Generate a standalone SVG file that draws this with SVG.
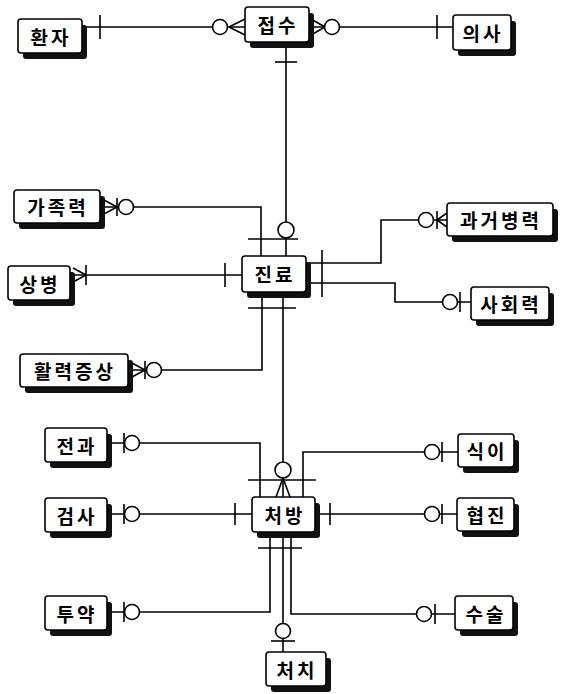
<svg xmlns="http://www.w3.org/2000/svg" width="568" height="694" viewBox="0 0 568 694">
<style>
.bx{fill:#fff;stroke:#000;stroke-width:1.6}
.sh{fill:#111}
.t{font-family:"Noto Sans CJK KR","Noto Sans CJK SC",sans-serif;font-weight:bold;font-size:19px;letter-spacing:3px;fill:#000;text-anchor:middle;dominant-baseline:central}
.ln{fill:none;stroke:#000;stroke-width:1.6}
.ci{fill:#fff;stroke:#000;stroke-width:1.6}
</style>
<rect width="568" height="694" fill="#fff"/>
<g id="connectors" class="ln">
  <path d="M82 27H245"/>
  <path d="M100 15V39"/>
  <path d="M229 27L245 19M229 27L245 35"/>
  <circle class="ci" cx="220" cy="27" r="7.5"/>
  <path d="M309 27H453"/>
  <path d="M325 27L311 19M325 27L311 35"/>
  <circle class="ci" cx="332" cy="27" r="7.5"/>
  <path d="M437 15V39"/>
  <path d="M286 42V256"/>
  <path d="M275 62H297"/>
  <circle class="ci" cx="286" cy="230" r="8"/>
  <path d="M248 239H298"/>
  <path d="M100 207H261V256"/>
  <path d="M117 207L104 200M117 207L104 214M117 198V216"/>
  <circle class="ci" cx="126" cy="207" r="7.5"/>
  <path d="M70 275H242"/>
  <path d="M86 275L73 268M86 275L73 282M86 265V285"/>
  <path d="M225 263V287"/>
  <path d="M128 370H262V292"/>
  <path d="M145 370L132 363M145 370L132 377M145 361V379"/>
  <circle class="ci" cx="154" cy="370" r="7.5"/>
  <path d="M248 308H296"/>
  <path d="M306 263H381V220H447"/>
  <path d="M322 250V297"/>
  <circle class="ci" cx="426" cy="220" r="7.5"/>
  <path d="M437 211V229M437 220L447 213M437 220L447 227"/>
  <path d="M306 283H395V302H471"/>
  <circle class="ci" cx="450" cy="302" r="7.5"/>
  <path d="M460 292V312"/>
  <path d="M283 292V497"/>
  <circle class="ci" cx="283" cy="470" r="8"/>
  <path d="M283 478L276 497M283 478L290 497"/>
  <path d="M248 480H316"/>
  <path d="M107 443H260V497"/>
  <path d="M124 433V453"/>
  <circle class="ci" cx="132" cy="443" r="7.5"/>
  <path d="M303 497V452H458"/>
  <circle class="ci" cx="432" cy="452" r="7.5"/>
  <path d="M442 442V462"/>
  <path d="M107 514H252"/>
  <path d="M124 504V524"/>
  <circle class="ci" cx="132" cy="514" r="7.5"/>
  <path d="M235 503V525"/>
  <path d="M315 514H457"/>
  <path d="M330 503V525"/>
  <circle class="ci" cx="432" cy="514" r="7.5"/>
  <path d="M442 504V524"/>
  <path d="M107 612H270V533"/>
  <path d="M124 602V622"/>
  <circle class="ci" cx="132" cy="612" r="7.5"/>
  <path d="M258 548H302"/>
  <path d="M291 533V614H455"/>
  <circle class="ci" cx="424" cy="614" r="7.5"/>
  <path d="M435 604V624"/>
  <path d="M283 533V652"/>
  <circle class="ci" cx="283" cy="631" r="7.5"/>
  <path d="M271 641H295"/>
</g>
<g id="n-hwanja"><rect class="sh" x="23" y="25" width="64" height="34" rx="3"/><rect class="bx" x="18" y="19" width="64" height="34" rx="3"/><text class="t" x="51" y="36">환자</text></g>
<g id="n-jeopsu"><rect class="sh" x="250" y="13" width="64" height="35" rx="3"/><rect class="bx" x="245" y="7" width="64" height="35" rx="3"/><text class="t" x="278" y="24">접수</text></g>
<g id="n-uisa"><rect class="sh" x="458" y="21" width="58" height="35" rx="3"/><rect class="bx" x="453" y="15" width="58" height="35" rx="3"/><text class="t" x="483" y="32">의사</text></g>
<g id="n-gajok"><rect class="sh" x="19" y="196" width="86" height="33" rx="3"/><rect class="bx" x="14" y="190" width="86" height="33" rx="3"/><text class="t" x="58" y="206">가족력</text></g>
<g id="n-gwageo"><rect class="sh" x="452" y="209" width="106" height="33" rx="3"/><rect class="bx" x="447" y="203" width="106" height="33" rx="3"/><text class="t" x="501" y="219">과거병력</text></g>
<g id="n-jinryo"><rect class="sh" x="247" y="262" width="64" height="36" rx="3"/><rect class="bx" x="242" y="256" width="64" height="36" rx="3"/><text class="t" x="275" y="273">진료</text></g>
<g id="n-sangbyeong"><rect class="sh" x="13" y="272" width="62" height="34" rx="3"/><rect class="bx" x="8" y="266" width="62" height="34" rx="3"/><text class="t" x="40" y="283">상병</text></g>
<g id="n-sahoe"><rect class="sh" x="476" y="293" width="78" height="33" rx="3"/><rect class="bx" x="471" y="287" width="78" height="33" rx="3"/><text class="t" x="511" y="303">사회력</text></g>
<g id="n-hwallyeok"><rect class="sh" x="25" y="360" width="108" height="33" rx="3"/><rect class="bx" x="20" y="354" width="108" height="33" rx="3"/><text class="t" x="75" y="370">활력증상</text></g>
<g id="n-jeongwa"><rect class="sh" x="50" y="434" width="62" height="34" rx="3"/><rect class="bx" x="45" y="428" width="62" height="34" rx="3"/><text class="t" x="77" y="445">전과</text></g>
<g id="n-sigi"><rect class="sh" x="463" y="440" width="56" height="33" rx="3"/><rect class="bx" x="458" y="434" width="56" height="33" rx="3"/><text class="t" x="487" y="450">식이</text></g>
<g id="n-cheobang"><rect class="sh" x="257" y="503" width="63" height="35" rx="3"/><rect class="bx" x="252" y="497" width="63" height="35" rx="3"/><text class="t" x="285" y="514">처방</text></g>
<g id="n-geomsa"><rect class="sh" x="50" y="504" width="62" height="34" rx="3"/><rect class="bx" x="45" y="498" width="62" height="34" rx="3"/><text class="t" x="77" y="515">검사</text></g>
<g id="n-hyeopjin"><rect class="sh" x="462" y="504" width="57" height="33" rx="3"/><rect class="bx" x="457" y="498" width="57" height="33" rx="3"/><text class="t" x="487" y="514">협진</text></g>
<g id="n-tuyak"><rect class="sh" x="50" y="602" width="62" height="34" rx="3"/><rect class="bx" x="45" y="596" width="62" height="34" rx="3"/><text class="t" x="77" y="613">투약</text></g>
<g id="n-susul"><rect class="sh" x="460" y="602" width="58" height="34" rx="3"/><rect class="bx" x="455" y="596" width="58" height="34" rx="3"/><text class="t" x="486" y="613">수술</text></g>
<g id="n-cheochi"><rect class="sh" x="271" y="658" width="60" height="34" rx="3"/><rect class="bx" x="266" y="652" width="60" height="34" rx="3"/><text class="t" x="297" y="669">처치</text></g>
</svg>
